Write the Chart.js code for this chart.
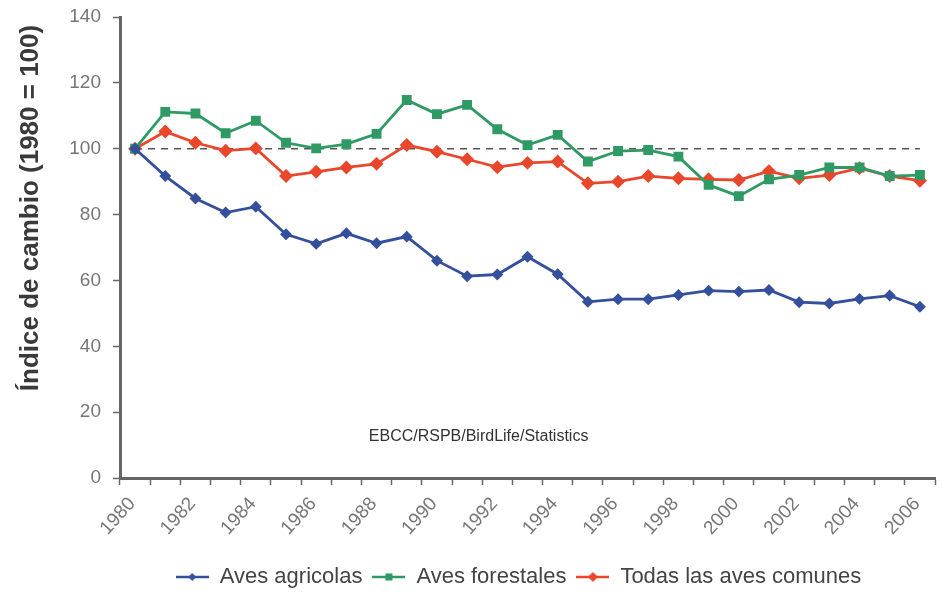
<!DOCTYPE html>
<html>
<head>
<meta charset="utf-8">
<script src="https://cdn.jsdelivr.net/npm/chart.js@4.4.0/dist/chart.umd.min.js"></script>
<style>
  html, body { margin: 0; padding: 0; background: #fff; }
  #wrap { width: 943px; height: 593px; }
</style>
</head>
<body>
<div id="wrap"><canvas id="chart" width="943" height="593"></canvas></div>
<script>
const years = ['1980','1981','1982','1983','1984','1985','1986','1987','1988','1989','1990','1991','1992','1993',
  '1994','1995','1996','1997','1998','1999','2000','2001','2002','2003','2004','2005','2006']

const agricolas = [100, 91.7, 84.9, 80.6, 82.4, 74.0, 71.1, 74.3, 71.3, 73.3, 66.0, 61.3, 61.8, 67.2,
  61.9, 53.5, 54.3, 54.3, 55.6, 56.9, 56.6, 57.1, 53.4, 53.0, 54.4, 55.4, 52.0]
const forestales = [100, 111.2, 110.7, 104.7, 108.5, 101.8, 100.1, 101.4, 104.5, 114.8, 110.5, 113.3, 105.9, 101.1,
  104.2, 96.1, 99.3, 99.6, 97.6, 89.0, 85.6, 90.7, 92.0, 94.3, 94.3, 91.7, 92.0]
const todas = [100, 105.2, 101.8, 99.4, 100.1, 91.7, 93.0, 94.3, 95.4, 101.1, 99.1, 96.8, 94.4, 95.7,
  96.1, 89.5, 90.0, 91.7, 91.0, 90.7, 90.5, 93.2, 91.0, 92.0, 94.1, 91.7, 90.3]
const baseLine = years.map(() => 100)

const yTitle = 'Índice de cambio (1980 = 100)'
const sourceNote = 'EBCC/RSPB/BirdLife/Statistics'

const fontFamily = '"Liberation Sans", Arial, sans-serif'

// source note inside the plot + y axis title (drawn by hand so it sits where the original has it)
const textPlugin = {
  id: 'texts',
  afterLayout(chart) {
    // legend in the original sits a bit right of the canvas centre and a bit lower
    chart.legend.left += 46
    chart.legend.right += 46
    chart.legend.top += 5
    chart.legend.bottom += 5
  },
  afterDraw(chart) {
    const { ctx, chartArea, scales } = chart
    ctx.save()
    ctx.font = '16px ' + fontFamily
    ctx.fillStyle = '#333'
    ctx.textAlign = 'center'
    ctx.textBaseline = 'middle'
    ctx.fillText(sourceNote, chartArea.left + chartArea.width * 0.44, scales.y.getPixelForValue(12.5))

    ctx.translate(31, scales.y.getPixelForValue(82))
    ctx.rotate(-Math.PI / 2)
    ctx.font = 'bold 26px ' + fontFamily
    ctx.fillStyle = '#3a3a3a'
    ctx.fillText(yTitle, 0, 0)
    ctx.restore()
  }
}

// legend icon: short line with the marker on it
const legendIcon = (color, style, radius) => {
  const c = document.createElement('canvas')
  c.width = 33
  c.height = 14
  const g = c.getContext('2d')
  g.strokeStyle = color
  g.lineWidth = 2.5
  g.beginPath()
  g.moveTo(0, 7)
  g.lineTo(33, 7)
  g.stroke()
  g.fillStyle = color
  Chart.helpers.drawPoint(g, { pointStyle: style, radius: radius, borderWidth: 0 }, 16.5, 7)
  return c
}

const makeSeries = (data, label, color, style, radius) => {
  return {
    label: label,
    data: data,
    borderColor: color,
    backgroundColor: color,
    borderWidth: 2.8,
    pointStyle: style,
    pointRadius: radius,
    pointHoverRadius: radius,
    tension: 0,
    legendStyle: legendIcon(color, style, radius),
  }
}

new Chart(document.getElementById('chart'), {
  type: 'line',
  data: {
    labels: years,
    datasets: [
      makeSeries(agricolas, 'Aves agricolas', '#34509c', 'rectRot', 4),
      makeSeries(forestales, 'Aves forestales', '#2f9a63', 'rect', 5),
      makeSeries(todas, 'Todas las aves comunes', '#e9472c', 'rectRot', 5),
      {
        label: 'base',
        data: baseLine,
        borderColor: '#555',
        borderWidth: 1.5,
        borderDash: [7, 6],
        pointRadius: 0,
        fill: false,
      },
    ]
  },
  options: {
    responsive: false,
    animation: false,
    layout: { padding: { top: 17, right: 8, left: 10, bottom: 0 } },
    plugins: {
      legend: {
        position: 'bottom',
        labels: {
          usePointStyle: true,
          pointStyleWidth: 33,
          padding: 10,
          color: '#444',
          font: { size: 22, family: fontFamily },
          generateLabels: (chart) => {
            return chart.data.datasets
              .map((ds, i) => ({
                text: ds.label,
                pointStyle: ds.legendStyle,
                fillStyle: ds.borderColor,
                strokeStyle: ds.borderColor,
                lineWidth: 0,
                fontColor: '#444',
                datasetIndex: i,
                hidden: false,
              }))
              .filter((item) => item.text !== 'base')
          }
        }
      },
      tooltip: { enabled: false }
    },
    scales: {
      x: {
        offset: true,
        afterFit: (scale) => {
          scale.height = 73
          scale.paddingRight = 0
        },
        grid: { offset: true, drawOnChartArea: false, color: '#666', tickLength: 7, tickWidth: 1.5 },
        border: { color: '#666', width: 3 },
        ticks: {
          autoSkip: false,
          maxRotation: 48,
          minRotation: 48,
          padding: 8,
          labelOffset: -3,
          color: '#777',
          font: { size: 19, family: fontFamily },
          callback: function(value, index) { return index % 2 === 0 ? this.getLabelForValue(value) : '' }
        }
      },
      y: {
        min: 0,
        max: 140,
        afterFit: (scale) => {
          scale.width = 110
          scale.paddingTop = 0
        },
        grid: { drawOnChartArea: false, color: '#666', tickLength: 7, tickWidth: 1.5 },
        border: { color: '#666', width: 3 },
        ticks: { stepSize: 20, color: '#777', padding: 12, font: { size: 19, family: fontFamily } },
      }
    }
  },
  plugins: [textPlugin]
})
</script>
</body>
</html>
